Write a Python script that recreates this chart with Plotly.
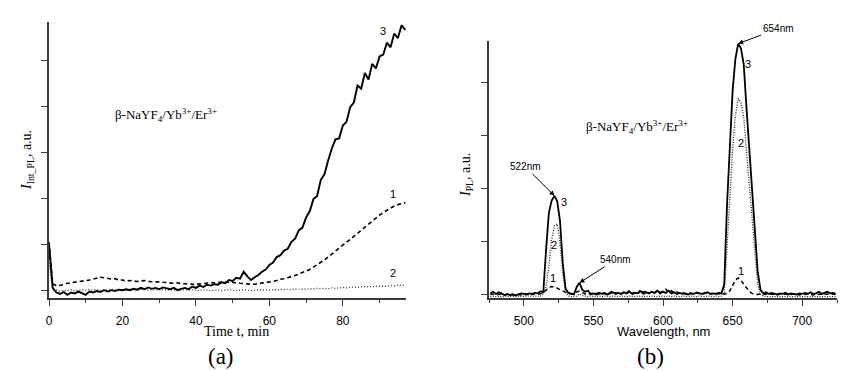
import plotly.graph_objects as go

# ---------------- Panel (a): integrated PL vs time ----------------
time_min = list(range(0, 98))

curve3_time = [
    1.00, 0.05, -0.05, -0.08, -0.04, -0.10, -0.05, -0.07, -0.03, -0.06,
    -0.10, -0.03, -0.05, -0.02, -0.04, 0.00, -0.03, 0.00, -0.02, 0.01,
    0.00, 0.02, 0.00, 0.03, 0.01, 0.05, 0.02, 0.06, 0.03, 0.05,
    0.02, 0.06, 0.04, 0.02, 0.05, 0.00, 0.03, 0.05, 0.02, 0.08,
    0.05, 0.10, 0.07, 0.12, 0.10, 0.13, 0.12, 0.17, 0.15, 0.22,
    0.20, 0.27, 0.25, 0.40, 0.30, 0.22, 0.28, 0.33, 0.40, 0.45,
    0.55, 0.60, 0.72, 0.76, 0.86, 0.90, 1.05, 1.12, 1.30, 1.36,
    1.58, 1.72, 1.98, 2.05, 2.40, 2.52, 2.82, 3.08, 3.28, 3.30,
    3.58, 3.66, 3.98, 4.08, 4.45, 4.38, 4.72, 4.58, 4.92, 4.82,
    5.08, 5.12, 5.38, 5.28, 5.58, 5.48, 5.76, 5.66,
]

curve1_time = [
    1.05, 0.15, 0.09, 0.10, 0.12, 0.15, 0.16, 0.18, 0.19, 0.20,
    0.21, 0.22, 0.24, 0.26, 0.28, 0.27, 0.25, 0.24, 0.25, 0.22,
    0.22, 0.20, 0.21, 0.20, 0.19, 0.20, 0.21, 0.19, 0.18, 0.18,
    0.18, 0.17, 0.17, 0.16, 0.15, 0.16, 0.14, 0.14, 0.13, 0.13,
    0.13, 0.14, 0.15, 0.15, 0.16, 0.16, 0.17, 0.17, 0.18, 0.17,
    0.17, 0.16, 0.15, 0.14, 0.13, 0.13, 0.13, 0.14, 0.15, 0.16,
    0.17, 0.19, 0.21, 0.24, 0.25, 0.27, 0.29, 0.32, 0.35, 0.38,
    0.41, 0.45, 0.50, 0.55, 0.60, 0.66, 0.72, 0.79, 0.86, 0.92,
    0.98, 1.04, 1.10, 1.17, 1.23, 1.30, 1.37, 1.44, 1.50, 1.57,
    1.63, 1.69, 1.74, 1.79, 1.83, 1.86, 1.88, 1.90,
]

curve2_time = [
    0.60, 0.03, 0.00, -0.02, 0.00, -0.01, 0.01, -0.01, 0.00, 0.01,
    0.00, 0.02, 0.00, 0.01, -0.01, 0.01, 0.00, 0.02, 0.01, 0.00,
    0.01, 0.00, 0.02, 0.01, 0.00, 0.01, 0.02, 0.00, 0.01, 0.00,
    0.02, 0.01, 0.00, 0.01, 0.00, 0.02, 0.00, 0.01, 0.00, 0.01,
    0.00, -0.01, 0.01, 0.00, -0.01, 0.00, 0.01, -0.01, 0.00, 0.01,
    0.00, -0.01, 0.00, 0.01, 0.00, -0.01, 0.00, 0.01, 0.00, 0.01,
    0.00, 0.01, 0.00, 0.02, 0.01, 0.02, 0.01, 0.03, 0.02, 0.02,
    0.03, 0.02, 0.03, 0.04, 0.03, 0.04, 0.03, 0.05, 0.04, 0.05,
    0.06, 0.05, 0.06, 0.07, 0.06, 0.07, 0.08, 0.07, 0.08, 0.09,
    0.09, 0.08, 0.09, 0.10, 0.09, 0.11, 0.10, 0.11,
]

# ---------------- Panel (b): PL spectra ----------------
wavelength = list(range(476, 725, 2))

curve3_spec = [
    0.03, 0.06, 0.02, 0.05, 0.03, 0.00, 0.02, 0.00, 0.01, -0.01,
    0.01, 0.03, 0.02, 0.01, 0.03, 0.02, 0.04, 0.03, 0.07, 0.05,
    0.85, 1.55, 1.78, 1.87, 1.77, 1.40, 0.60, 0.12, 0.04, 0.03,
    0.01, 0.15, 0.23, 0.10, 0.06, 0.08, 0.02, 0.03, 0.01, 0.04,
    0.02, 0.03, 0.01, 0.03, 0.05, 0.02, 0.04, 0.02, 0.05, 0.03,
    0.06, 0.02, 0.04, 0.03, 0.07, 0.02, 0.05, 0.03, 0.06, 0.04,
    0.08, 0.03, 0.06, 0.04, 0.08, 0.03, 0.05, 0.02, 0.04, 0.02,
    0.03, 0.01, 0.03, 0.02, 0.04, 0.03, 0.02, 0.03, 0.05, 0.02,
    0.03, 0.02, 0.04, 0.03, 0.20, 1.70, 2.90, 3.85, 4.45, 4.74,
    4.65, 4.35, 3.52, 2.72, 1.98, 1.20, 0.45, 0.10, 0.03, 0.05,
    0.02, 0.04, 0.03, 0.01, 0.03, 0.02, 0.04, 0.01, 0.03, 0.02,
    0.01, 0.03, 0.02, 0.04, 0.02, 0.05, 0.02, 0.03, 0.06, 0.02,
    0.04, 0.06, 0.03, 0.04, 0.02,
]

curve2_spec = [
    -0.03, -0.02, -0.03, -0.03, -0.02, -0.03, -0.03, -0.02, -0.03, -0.03,
    -0.03, -0.02, -0.03, -0.03, -0.02, -0.03, -0.02, -0.03, -0.02, 0.02,
    0.15, 0.55, 1.05, 1.30, 1.34, 1.00, 0.40, 0.05, -0.02, -0.03,
    -0.03, -0.02, 0.02, -0.01, -0.02, -0.03, -0.02, -0.03, -0.03, -0.02,
    -0.03, -0.02, -0.03, -0.03, -0.02, -0.03, -0.03, -0.02, -0.03, -0.03,
    -0.02, -0.03, -0.03, -0.02, -0.03, -0.03, -0.02, -0.03, -0.02, -0.03,
    -0.03, -0.02, -0.03, -0.03, -0.02, -0.03, -0.02, -0.03, -0.03, -0.02,
    -0.03, -0.03, -0.02, -0.03, -0.03, -0.02, -0.03, -0.03, -0.02, -0.03,
    -0.03, -0.02, -0.03, -0.02, 0.05, 0.90, 1.85, 2.75, 3.38, 3.71,
    3.62, 3.35, 2.70, 2.10, 1.45, 0.80, 0.20, 0.02, -0.02, -0.03,
    -0.03, -0.02, -0.03, -0.03, -0.02, -0.03, -0.03, -0.02, -0.03, -0.03,
    -0.02, -0.03, -0.03, -0.02, -0.03, -0.03, -0.02, -0.03, -0.03, -0.02,
    -0.03, -0.03, -0.02, -0.03, -0.03,
]

curve1_spec = [
    0.01, 0.02, 0.00, 0.01, 0.02, 0.00, 0.01, 0.00, 0.01, 0.00,
    0.01, 0.00, 0.01, 0.02, 0.00, 0.01, 0.02, 0.01, 0.02, 0.04,
    0.09, 0.14, 0.16, 0.15, 0.13, 0.10, 0.07, 0.05, 0.03, 0.02,
    0.03, 0.06, 0.07, 0.04, 0.02, 0.03, 0.01, 0.02, 0.03, 0.01,
    0.02, 0.04, 0.02, 0.05, 0.08, 0.03, 0.05, 0.02, 0.06, 0.04,
    0.09, 0.03, 0.06, 0.04, 0.10, 0.05, 0.08, 0.03, 0.06, 0.04,
    0.09, 0.05, 0.07, 0.11, 0.05, 0.08, 0.04, 0.06, 0.03, 0.05,
    0.02, 0.04, 0.03, 0.02, 0.05, 0.03, 0.02, 0.04, 0.02, 0.03,
    0.02, 0.03, 0.02, 0.03, 0.02, 0.03, 0.08, 0.18, 0.28, 0.32,
    0.28, 0.20, 0.13, 0.07, 0.03, 0.02, 0.01, 0.02, 0.01, 0.02,
    0.01, 0.02, 0.01, 0.00, 0.02, 0.01, 0.02, 0.00, 0.01, 0.02,
    0.01, 0.00, 0.02, 0.01, 0.02, 0.01, 0.00, 0.02, 0.01, 0.02,
    0.01, 0.02, 0.01, 0.02, 0.01,
]

# page body has an 8px margin: the figure is drawn from (8, 8)
OFF = 8
W, H = 850 - OFF, 371 - OFF
SERIF = "Liberation Serif, Times New Roman, DejaVu Serif, serif"
SANS = "Liberation Sans, Arial, sans-serif"
AX = "#3a3a3a"

def px(x):
    return (x - OFF) / W

def py(y):
    return 1 - (y - OFF) / H

fig = go.Figure()

# panel (a)
fig.add_trace(go.Scatter(x=time_min, y=curve2_time, mode="lines", xaxis="x", yaxis="y",
                         line=dict(color="#222", width=1.2, dash="1px,2px")))
fig.add_trace(go.Scatter(x=time_min, y=curve1_time, mode="lines", xaxis="x", yaxis="y",
                         line=dict(color="black", width=1.6, dash="4px,3px")))
fig.add_trace(go.Scatter(x=time_min, y=curve3_time, mode="lines", xaxis="x", yaxis="y",
                         line=dict(color="black", width=1.9)))

# panel (b)
fig.add_trace(go.Scatter(x=wavelength, y=curve2_spec, mode="lines", xaxis="x2", yaxis="y2",
                         line=dict(color="#222", width=1.3, dash="1px,1.5px")))
fig.add_trace(go.Scatter(x=wavelength, y=curve1_spec, mode="lines", xaxis="x2", yaxis="y2",
                         line=dict(color="black", width=1.5, dash="4px,3px")))
fig.add_trace(go.Scatter(x=wavelength, y=curve3_spec, mode="lines", xaxis="x2", yaxis="y2",
                         line=dict(color="black", width=1.8)))

tickfont = dict(family=SANS, size=12, color="black")

def xax(domain, rng, dtick, minor, anchor):
    return dict(domain=domain, range=rng, anchor=anchor, showgrid=False, zeroline=False,
                automargin=False,
                showline=True, linecolor=AX, linewidth=2, ticks="outside", ticklen=6,
                tickwidth=1, tickcolor=AX, dtick=dtick, tick0=0, tickfont=tickfont,
                minor=dict(dtick=minor, ticks="outside", ticklen=3, tickcolor=AX, showgrid=False),
                ticklabelstandoff=5)

def yax(domain, rng, anchor):
    return dict(domain=domain, range=rng, anchor=anchor, showgrid=False, zeroline=False,
                automargin=False,
                showline=True, linecolor=AX, linewidth=2, ticks="outside", ticklen=6,
                tickwidth=1, tickcolor=AX, dtick=1, tick0=0, showticklabels=False)

fig.update_layout(
    template="none",
    width=W, height=H, margin=dict(l=0, r=0, t=0, b=0, pad=0),
    paper_bgcolor="white", plot_bgcolor="white", showlegend=False,
    xaxis=xax([px(49), px(406)], [0, 97.2], 20, 10, "y"),
    yaxis=yax([py(298), py(22)], [-0.17, 5.83], "x"),
    xaxis2=xax([px(489), px(837)], [475, 725], 50, 25, "y2"),
    yaxis2=yax([py(298), py(41)], [-0.057, 4.79], "x2"),
)

def ptext(x, y, text, size, family=SERIF, angle=0):
    fig.add_annotation(x=px(x), y=py(y), xref="paper", yref="paper", text=text,
                       showarrow=False, textangle=angle, xanchor="center", yanchor="middle",
                       font=dict(family=family, size=size, color="black"))

# axis titles and panel labels
ptext(236, 331, "Time t, min", 14)
ptext(663, 331, "Wavelength, nm", 13, family=SANS)
ptext(221, 356, "(a)", 23)
ptext(650, 356, "(b)", 23)
ptext(27, 160, "<i>I</i><sub>Int_PL</sub>, a.u.", 14, angle=-90)
ptext(466, 175, "<i>I</i><sub>PL</sub>, a.u.", 14, angle=-90)
formula = "β-NaYF<sub>4</sub>/Yb<sup>3+</sup>/Er<sup>3+</sup>"
ptext(166, 115, formula, 13)
ptext(637, 127, formula, 13)

# curve numbers
def dlabel(x, y, text, xr, yr):
    fig.add_annotation(x=x, y=y, xref=xr, yref=yr, text=text, showarrow=False,
                       font=dict(family=SANS, size=11, color="black"))

dlabel(90.9, 5.63, "3", "x", "y")
dlabel(93.6, 2.1, "1", "x", "y")
dlabel(93.6, 0.37, "2", "x", "y")
dlabel(528.8, 1.75, "3", "x2", "y2")
dlabel(521.5, 0.94, "2", "x2", "y2")
dlabel(520.8, 0.32, "1", "x2", "y2")
dlabel(661.4, 4.36, "3", "x2", "y2")
dlabel(655.7, 2.87, "2", "x2", "y2")
dlabel(655.7, 0.45, "1", "x2", "y2")

# peak annotations with arrows
def peak(x, y, text, ax, ay):
    fig.add_annotation(x=x, y=y, xref="x2", yref="y2", text=text, showarrow=True,
                       ax=ax, ay=ay, arrowhead=2, arrowsize=1, arrowwidth=1, arrowcolor="black",
                       font=dict(family=SANS, size=10, color="black"))

peak(522, 1.87, "522nm", -29, -29)
peak(540, 0.23, "540nm", 36, -23)
peak(654, 4.74, "654nm", 40, -15)

fig.write_html("out.html")
